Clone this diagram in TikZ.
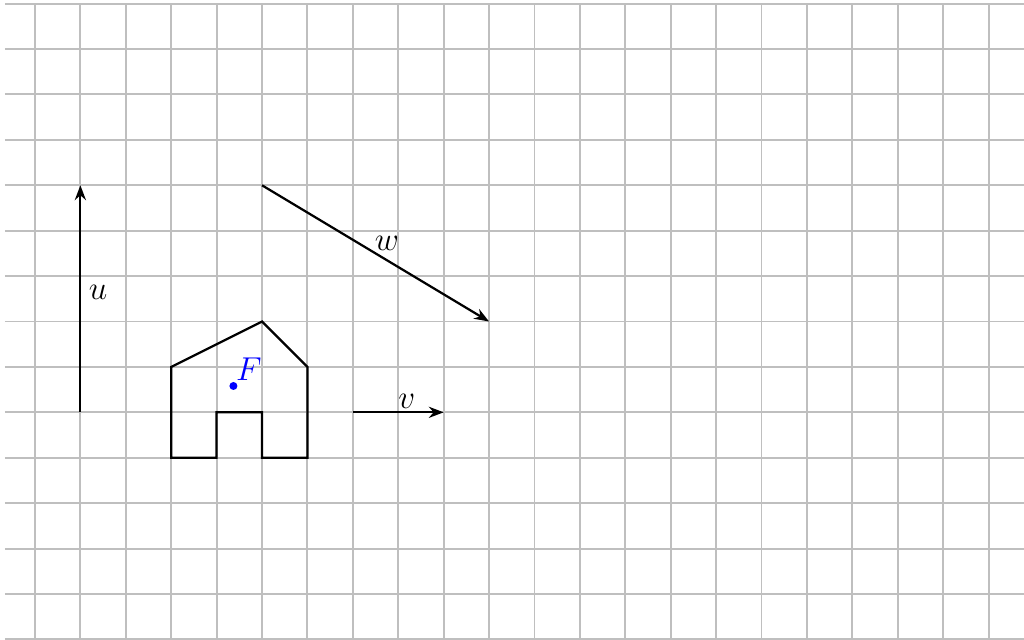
\documentclass[tikz,border=0pt]{standalone}
\usepackage{tikz}
\usetikzlibrary{arrows.meta}
\tikzset{every picture/.append style={font=\huge}}
\definecolor{gridgray}{HTML}{BFBFBF}
\definecolor{figink}{HTML}{000000}
\definecolor{figblue}{HTML}{0000FF}
\tikzset{
  vec/.style={-{Stealth},figink,line width=1.4pt},
  lab/.style={inner sep=0pt}
}

\begin{document}
\begin{tikzpicture}[x=1cm,y=1cm]
    \useasboundingbox (-0.77,0) rectangle (21.78,14.08);
    \draw[gridgray,line width=1.2pt] (-0.66,0) grid (21.78,14);
    % house
    \draw[figink,line width=1.4pt] (3,4) -- (3,6) -- (5,7) -- (6,6) -- (6,4) -- (5,4)
      -- (5,5) -- (4,5) -- (4,4) -- cycle;
    \node[circle,fill=figblue,inner sep=0pt,minimum size=5pt] (fpt) at (4.37,5.58) {};
    \node[lab,text=figblue] (flab) at (4.71,5.94) {$F$};
    % vectors
    \coordinate (u0) at (1,5);
    \coordinate (u1) at (1,10);
    \coordinate (v0) at (7,5);
    \coordinate (v1) at (9,5);
    \coordinate (w0) at (5,10);
    \coordinate (w1) at (10,7);
    \draw[vec] (u0) -- (u1);
    \draw[vec] (v0) -- (v1);
    \draw[vec] (w0) -- (w1);
    \node[lab] (ulab) at (1.39,7.64) {$u$};
    \node[lab] (vlab) at (8.19,5.24) {$v$};
    \node[lab] (wlab) at (7.75,8.72) {$w$};
\end{tikzpicture}
\end{document}
